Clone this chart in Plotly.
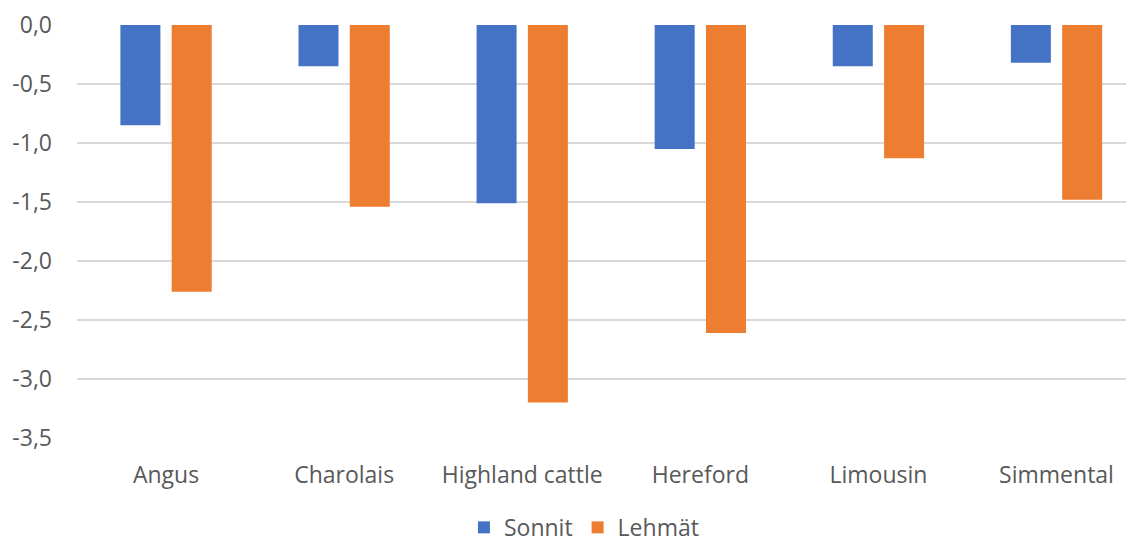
import plotly.graph_objects as go

categories = ["Angus", "Charolais", "Highland cattle", "Hereford", "Limousin", "Simmental"]
sonnit = [-0.85, -0.35, -1.51, -1.05, -0.35, -0.32]
lehmat = [-2.26, -1.54, -3.20, -2.61, -1.13, -1.48]
y_ticks = [0, -0.5, -1.0, -1.5, -2.0, -2.5, -3.0, -3.5]
y_labels = ["0,0", "-0,5", "-1,0", "-1,5", "-2,0", "-2,5", "-3,0", "-3,5"]

fig = go.Figure()
fig.add_trace(go.Bar(x=categories, y=sonnit, name="Sonnit", marker_color="#4472C4", marker_line_width=0))
fig.add_trace(go.Bar(x=categories, y=lehmat, name="Lehmät", marker_color="#ED7D31", marker_line_width=0))

font_family = "Open Sans, Noto Sans, sans-serif"
fs = 23
fig.update_layout(
    width=1134, height=546,
    margin=dict(l=69, r=0, t=17, b=115.5),
    paper_bgcolor="white", plot_bgcolor="white",
    barmode="group", bargap=0.424, bargroupgap=0.22,
    font=dict(family=font_family, size=fs, color="#595959"),
    showlegend=True,
    legend=dict(orientation="h", x=0.476, xanchor="center", y=-0.2165, yanchor="middle",
                font=dict(size=fs, color="#595959"), itemwidth=30, traceorder="normal"),
    xaxis=dict(range=[-0.5, 5.48], showgrid=False, showline=False, zeroline=False,
               tickfont=dict(size=fs, color="#595959"), ticks="", ticklabelstandoff=21),
    yaxis=dict(range=[-3.5, 0], tickvals=y_ticks, ticktext=y_labels, showgrid=True,
               gridcolor="#d9d9d9", gridwidth=1.5, zeroline=False, showline=False,
               tickfont=dict(size=fs, color="#595959"), ticks="", ticklabelstandoff=24),
)
fig.write_html("out.html")
